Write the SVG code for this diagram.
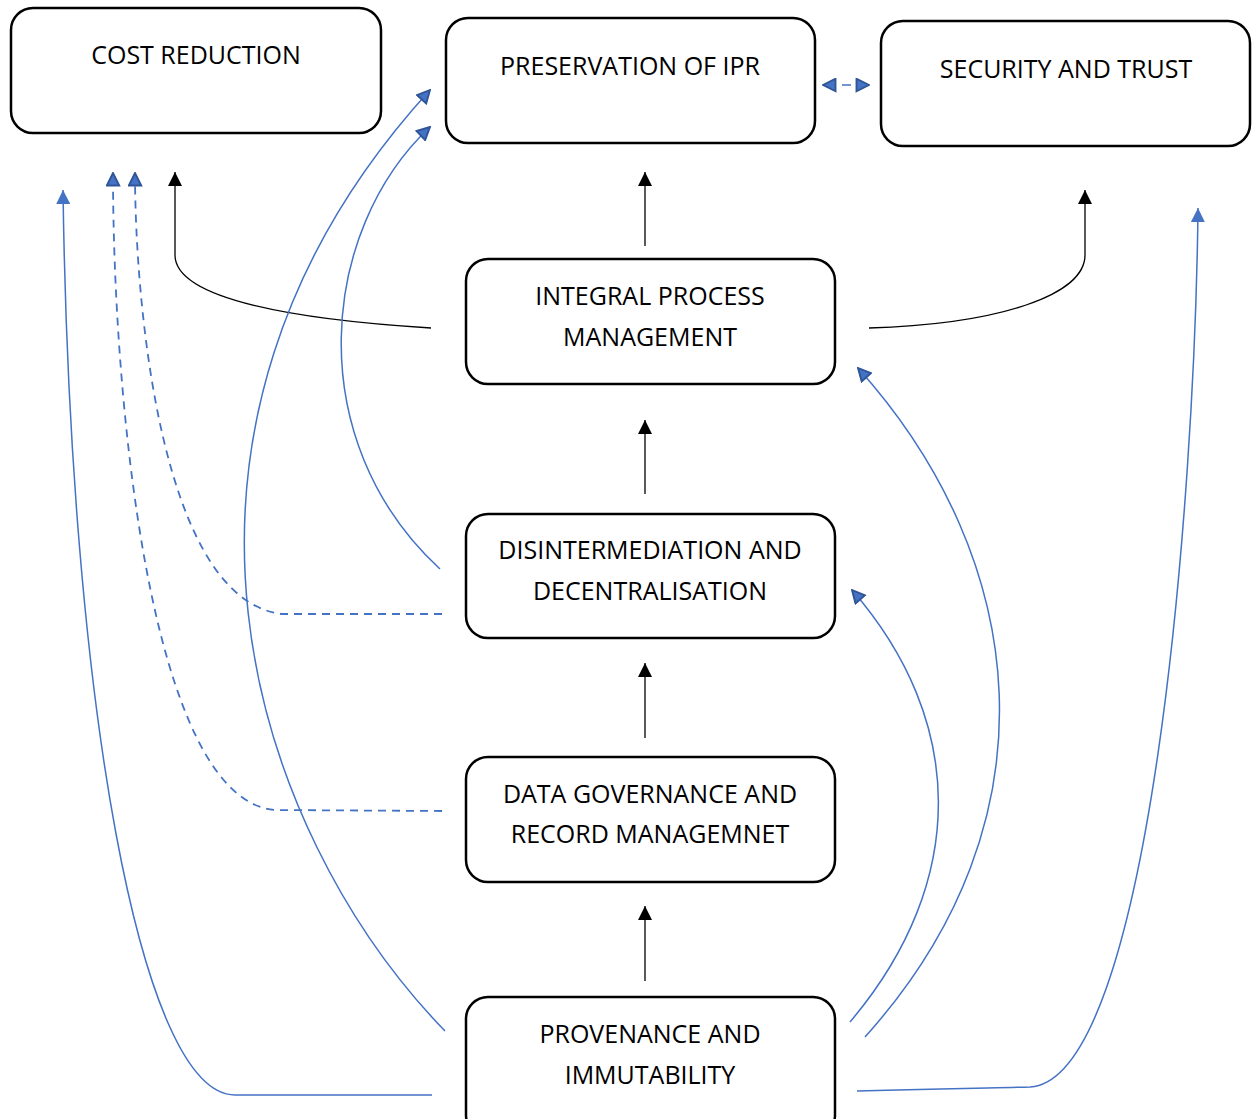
<svg xmlns="http://www.w3.org/2000/svg" width="1252" height="1119" viewBox="0 0 1252 1119">
  <defs>
    <style>
      .box { fill: #ffffff; stroke: #000000; stroke-width: 2.5; }
      .lbl { font-family: "Open Sans", "Liberation Sans", sans-serif; font-size: 25px; fill: #000000; text-anchor: middle; }
      .blk { fill: none; stroke: #000000; stroke-width: 1.3; }
      .blue { fill: none; stroke: #4472C4; stroke-width: 1.5; }
      .dash { fill: none; stroke: #4472C4; stroke-width: 1.8; stroke-dasharray: 8 6; }
    </style>
    <marker id="ah-blue" viewBox="0 0 10 10" refX="10" refY="5" markerWidth="14" markerHeight="14" markerUnits="userSpaceOnUse" orient="auto">
      <path d="M0,0 L10,5 L0,10 Z" fill="#4472C4"/>
    </marker>
    <marker id="ah-blue-dk" viewBox="0 0 12 12" refX="11" refY="6" markerWidth="15" markerHeight="15" markerUnits="userSpaceOnUse" orient="auto-start-reverse">
      <path d="M1,1 L11,6 L1,11 Z" fill="#4472C4" stroke="#2F5597" stroke-width="1.5" stroke-linejoin="miter"/>
    </marker>
    <marker id="ah-blk" viewBox="0 0 10 10" refX="10" refY="5" markerWidth="14" markerHeight="14" markerUnits="userSpaceOnUse" orient="auto">
      <path d="M0,0 L10,5 L0,10 Z" fill="#000000"/>
    </marker>
  </defs>

  <!-- connectors -->
  <g id="connectors">
    <!-- vertical chain -->
    <path class="blk" d="M645,246 V172" marker-end="url(#ah-blk)"/>
    <path class="blk" d="M645,494 V420" marker-end="url(#ah-blk)"/>
    <path class="blk" d="M645,738 V663" marker-end="url(#ah-blk)"/>
    <path class="blk" d="M645,981 V906" marker-end="url(#ah-blk)"/>
    <!-- integral process management to the sides -->
    <path class="blk" d="M431,328 C 300,320 175,300 175,255 L175,172" marker-end="url(#ah-blk)"/>
    <path class="blk" d="M869,328 C 1000,324 1085,295 1085,255 L1085,190" marker-end="url(#ah-blk)"/>
    <!-- IPR <-> security: heads on an invisible span, short dash between -->
    <path d="M823,85 H869" fill="none" stroke="none" marker-start="url(#ah-blue-dk)" marker-end="url(#ah-blue-dk)"/>
    <path class="blue" d="M842,85 H851" stroke-width="1.8"/>
    <!-- provenance links -->
    <path class="blue" d="M432,1095 L235,1095 C 140,1095 70,700 63,190" marker-end="url(#ah-blue)"/>
    <path class="blue" d="M857,1091 C 950,1088 1000,1088 1030,1087 C 1150,1080 1195,500 1198,208" marker-end="url(#ah-blue)"/>
    <path class="blue" d="M445,1031 C 250,830 120,430 430,90" marker-end="url(#ah-blue-dk)"/>
    <path class="blue" d="M865,1037 C 1060,820 1030,560 858,368" marker-end="url(#ah-blue-dk)"/>
    <path class="blue" d="M850,1022 C 970,880 965,720 852,590" marker-end="url(#ah-blue-dk)"/>
    <!-- disintermediation to IPR -->
    <path class="blue" d="M440,569 C 300,440 320,230 430,127" marker-end="url(#ah-blue-dk)"/>
    <!-- dashed links to cost reduction -->
    <path class="dash" d="M442,614 L282,614 C 160,600 135,300 135,173" marker-end="url(#ah-blue-dk)"/>
    <path class="dash" d="M442,811 L275,810 C 150,800 113,400 113,173" marker-end="url(#ah-blue-dk)"/>
  </g>

  <g id="cost-reduction">
    <rect class="box" x="11" y="8" width="370" height="125" rx="22"/>
    <text class="lbl" x="196" y="64">COST REDUCTION</text>
  </g>
  <g id="preservation-ipr">
    <rect class="box" x="446" y="18" width="369" height="125" rx="22"/>
    <text class="lbl" x="630" y="75">PRESERVATION OF IPR</text>
  </g>
  <g id="security-trust">
    <rect class="box" x="881" y="21" width="369" height="125" rx="22"/>
    <text class="lbl" x="1066" y="78">SECURITY AND TRUST</text>
  </g>
  <g id="integral-process">
    <rect class="box" x="466" y="259" width="369" height="125" rx="22"/>
    <text class="lbl" x="650" y="305">INTEGRAL PROCESS</text>
    <text class="lbl" x="650" y="346">MANAGEMENT</text>
  </g>
  <g id="disintermediation">
    <rect class="box" x="466" y="514" width="369" height="124" rx="22"/>
    <text class="lbl" x="650" y="559">DISINTERMEDIATION AND</text>
    <text class="lbl" x="650" y="600">DECENTRALISATION</text>
  </g>
  <g id="data-governance">
    <rect class="box" x="466" y="757" width="369" height="125" rx="22"/>
    <text class="lbl" x="650" y="803">DATA GOVERNANCE AND</text>
    <text class="lbl" x="650" y="843">RECORD MANAGEMNET</text>
  </g>
  <g id="provenance">
    <rect class="box" x="466" y="997" width="369" height="140" rx="22"/>
    <text class="lbl" x="650" y="1043">PROVENANCE AND</text>
    <text class="lbl" x="650" y="1084">IMMUTABILITY</text>
  </g>
</svg>
